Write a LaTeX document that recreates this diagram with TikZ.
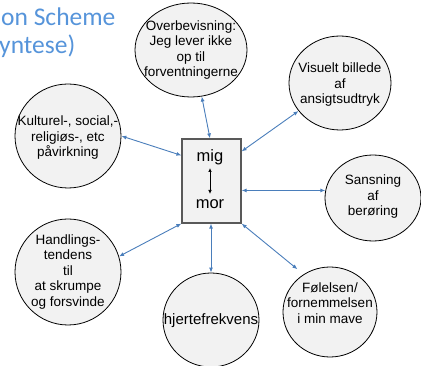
\documentclass[tikz,border=0pt]{standalone}
\usepackage{fontspec}
\setmainfont{Liberation Sans}
\newfontfamily\titlefont{Carlito}
\usetikzlibrary{shapes.geometric,arrows.meta,calc}
\definecolor{arrowblue}{RGB}{74,126,187}
\definecolor{titleblue}{RGB}{86,148,218}
\definecolor{bubblegray}{RGB}{242,242,242}
\definecolor{boxedge}{RGB}{89,89,89}
\begin{document}
\begin{tikzpicture}[x=1pt,y=-1pt,
  bubble/.style={ellipse,draw=black,line width=0.8pt,fill=bubblegray,inner sep=0pt},
  btext/.style={align=center,font=\fontsize{13.5}{15.5}\selectfont,inner sep=0pt},
  link/.style={draw=arrowblue,line width=0.9pt,{Latex[length=5pt,width=4pt]}-{Latex[length=5pt,width=4pt]}},
  titletext/.style={anchor=base west,inner sep=0pt,text=titleblue,font=\titlefont\fontsize{25.5}{30}\selectfont},
]
\useasboundingbox (0,0) rectangle (421,366);

% title fragments
\node[titletext] (t1) at (1,26) {on Scheme};
\node[titletext] (t2) at (-1,54) {yntese)};

% bubbles
\node[bubble,minimum width=112pt,minimum height=94pt] (ov) at (191,50) {};
\node[bubble,minimum width=102pt,minimum height=94pt] (vi) at (340,83) {};
\node[bubble,minimum width=96pt,minimum height=86pt] (sa) at (373,198) {};
\node[bubble,minimum width=94pt,minimum height=90pt] (fo) at (330,312) {};
\node[bubble,minimum width=96pt,minimum height=94pt] (hj) at (211,320) {};
\node[bubble,minimum width=106pt,minimum height=106pt] (ha) at (68,272) {};
\node[bubble,minimum width=106pt,minimum height=104pt] (ku) at (68,136) {};

% bubble texts
\node[btext] (ovt) at (191,50) {Overbevisning:\\Jeg lever ikke\\op til\\forventningerne};
\node[btext] (vit) at (340,85) {Visuelt billede\\af\\ansigtsudtryk};
\node[btext] (sat) at (373,197) {Sansning\\af\\berøring};
\node[btext] (fot) at (330,303) {Følelsen/\\fornemmelsen\\i min mave};
\node[btext,font=\fontsize{15}{17}\selectfont] (hjt) at (211,321) {hjertefrekvens};
\node[btext] (hat) at (68,272) {Handlings-\\tendens\\til\\at skrumpe\\og forsvinde};
\node[btext] (kut) at (68,138) {Kulturel-, social,-\\religiøs-, etc\\påvirkning};

% centre box
\node[draw=boxedge,line width=1.2pt,fill=bubblegray,minimum width=59pt,minimum height=84pt,inner sep=0pt] (box) at (211.5,181) {};
\node[anchor=base,inner sep=0pt,font=\fontsize{16.5}{19}\selectfont] (mig) at (210,162) {mig};
\node[anchor=base,inner sep=0pt,font=\fontsize{16.5}{19}\selectfont] (mor) at (210,209) {mor};
\draw[black,line width=0.7pt,{Latex[length=4pt,width=3.5pt]}-{Latex[length=4pt,width=3.5pt]}] ($(box.center)+(-1.5,-13)$) -- ($(box.center)+(-1.5,13)$);

% connectors
\draw[link] (ov.-77) -- ($(box.north)+(-1.5,0)$);
\draw[link] (ku.0) -- ($(box.north west)+(0,17)$);
\draw[link] (vi.-146) -- ($(box.north east)+(0,13)$);
\draw[link] (sa.171) -- (box.east |- sa.171);
\draw[link,shorten >=8pt] (box.south east) -- (fo.125);
\draw[link] (box.south -| hj.north) -- (hj.north);
\draw[link] (ha.17.5) -- (box.south west);
\end{tikzpicture}
\end{document}
